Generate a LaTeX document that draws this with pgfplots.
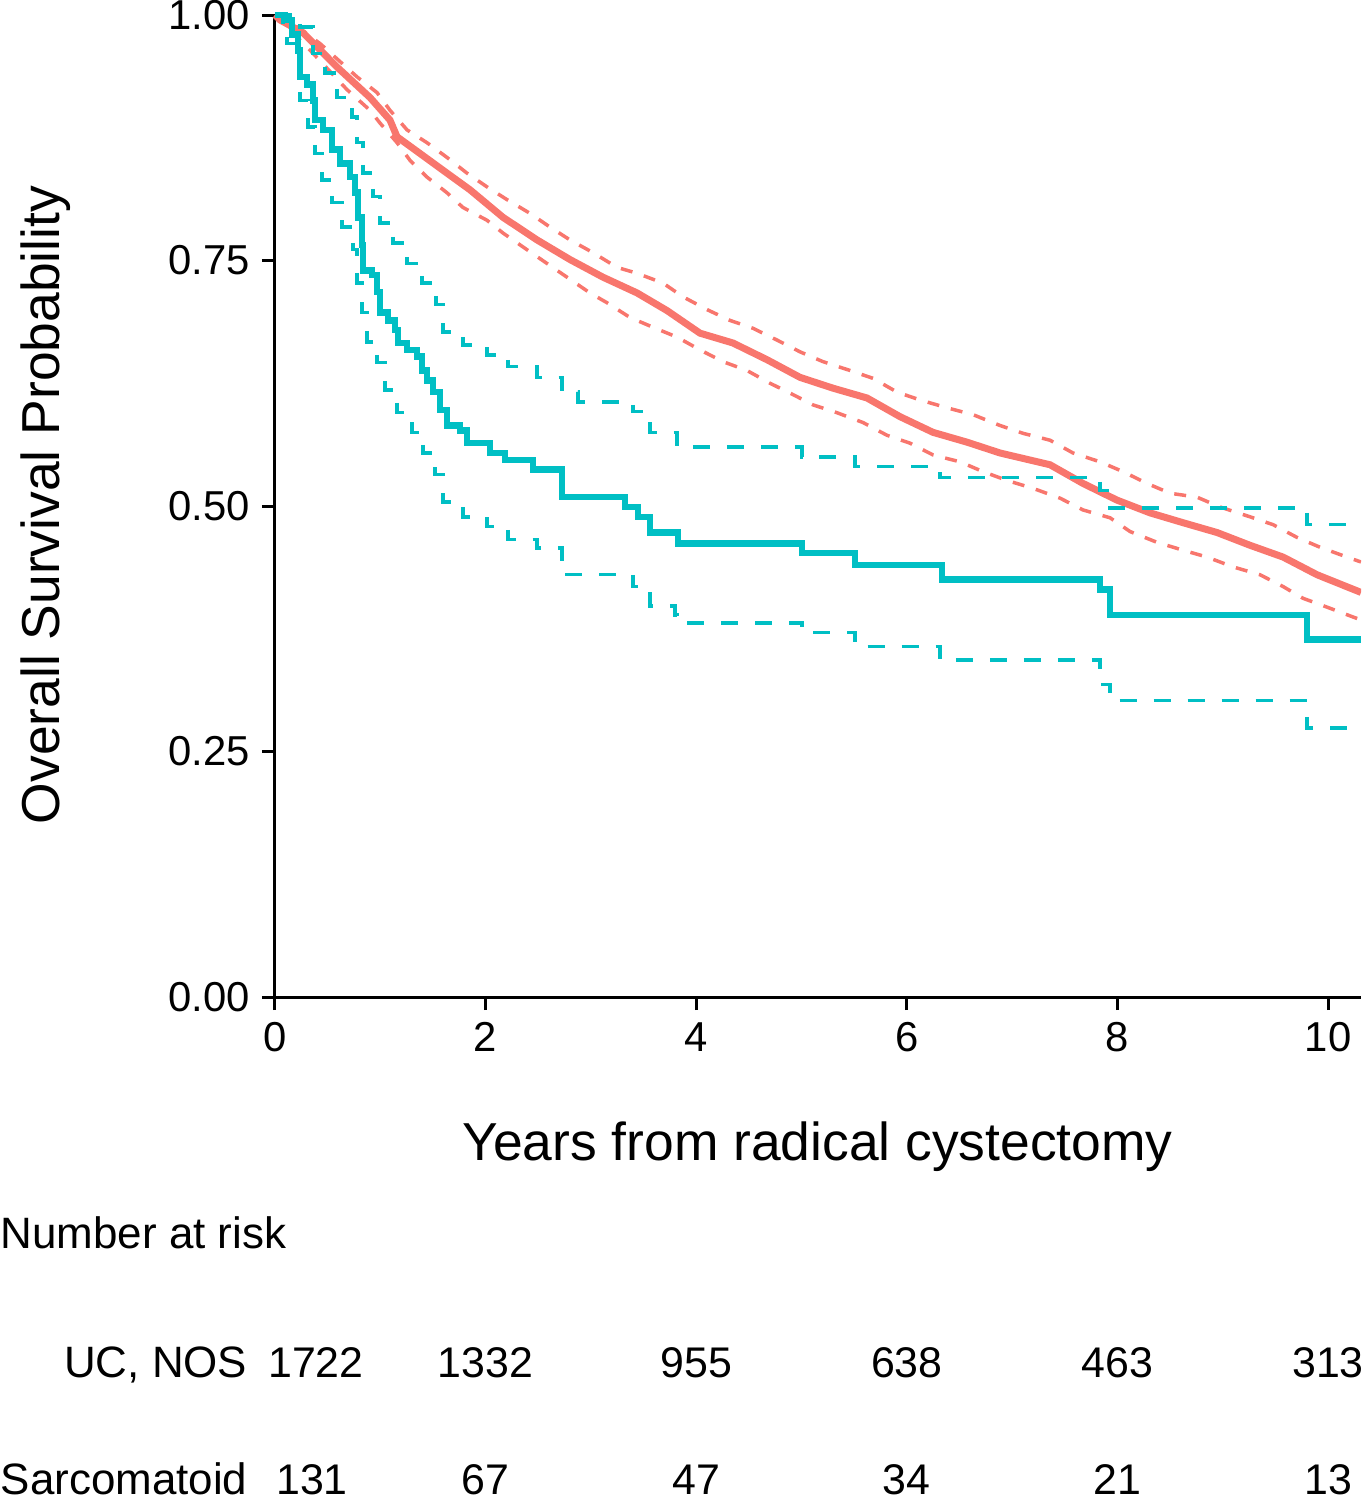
\documentclass[border=0pt]{standalone}
\usepackage{fontspec}
\setmainfont{Liberation Sans}
\usepackage{pgfplots}
\pgfplotsset{compat=1.18}
\definecolor{ucred}{HTML}{F8766D}
\definecolor{sarc}{HTML}{00BFC4}

\begin{document}
\begin{tikzpicture}[risk/.style={anchor=base, inner sep=0pt, font=\fontsize{12.2}{15}\selectfont}]
\useasboundingbox (-27.5mm,-50.3mm) rectangle (108.6mm,99.7mm);
\clip (-27.5mm,-50.3mm) rectangle (108.6mm,99.7mm);
\begin{axis}[
	at={(0,0)}, anchor=origin,
	scale only axis,
	width=108.6mm, height=98.2mm,
	xmin=0, xmax=10.313,
	ymin=0, ymax=1,
	axis lines*=left,
	axis line style={-, black, line width=0.3mm},
	tick align=outside,
	major tick length=1.3mm,
	tick style={black, line width=0.3mm},
	xtick={0,2,4,6,8,10},
	ytick={0,0.25,0.5,0.75,1},
	yticklabels={0.00,0.25,0.50,0.75,1.00},
	/pgf/number format/assume math mode=true,
	tick label style={font=\fontsize{11.9}{14}\selectfont},
	clip=false,
	]

% UC, NOS
\addplot[ucred, line width=0.7mm] coordinates {
	(0,1.000) (0.047,0.995) (0.266,0.982) (0.589,0.947) (0.902,0.916)
	(1.092,0.893) (1.159,0.876) (1.377,0.859) (1.633,0.839) (1.852,0.822)
	(2.165,0.794) (2.488,0.771) (2.801,0.751) (3.115,0.733) (3.438,0.717)
	(3.723,0.699) (4.036,0.676) (4.349,0.666) (4.672,0.649) (4.986,0.631)
	(5.299,0.620) (5.622,0.610) (5.935,0.591) (6.249,0.575) (6.572,0.565)
	(6.885,0.554) (7.360,0.542) (7.673,0.523) (7.996,0.506) (8.310,0.493)
	(8.623,0.483) (8.946,0.473) (9.259,0.460) (9.573,0.448) (9.896,0.430)
	(10.313,0.412)
};
\addplot[ucred, line width=0.35mm, dash pattern=on 1.2mm off 1.2mm] coordinates {
	(0,1.000) (0.142,0.993) (0.427,0.971) (0.779,0.937) (0.969,0.921)
	(1.092,0.903) (1.254,0.883) (1.443,0.870) (1.633,0.855) (1.823,0.839)
	(2.013,0.825) (2.203,0.812) (2.422,0.798) (2.612,0.784) (2.801,0.771)
	(3.020,0.758) (3.248,0.743) (3.438,0.737) (3.685,0.727) (3.875,0.713)
	(4.103,0.700) (4.321,0.689) (4.539,0.681) (4.767,0.669) (4.986,0.657)
	(5.204,0.647) (5.461,0.638) (5.679,0.630) (5.907,0.616) (6.125,0.608)
	(6.382,0.600) (6.629,0.593) (6.885,0.582) (7.104,0.574) (7.360,0.567)
	(7.578,0.554) (7.835,0.545) (8.053,0.535) (8.281,0.523) (8.500,0.513)
	(8.756,0.509) (8.974,0.499) (9.259,0.489) (9.478,0.481) (9.706,0.468)
	(9.924,0.458) (10.180,0.448) (10.313,0.443)
};
\addplot[ucred, line width=0.35mm, dash pattern=on 1.2mm off 1.2mm] coordinates {
	(0,1.000) (0.076,0.992) (0.361,0.961) (0.684,0.924) (0.902,0.903)
	(0.997,0.890) (1.159,0.870) (1.282,0.852) (1.443,0.835) (1.633,0.819)
	(1.785,0.804) (2.013,0.791) (2.165,0.778) (2.393,0.761) (2.583,0.747)
	(2.773,0.733) (2.991,0.717) (3.153,0.707) (3.371,0.692) (3.590,0.682)
	(3.818,0.672) (4.036,0.659) (4.255,0.647) (4.482,0.638) (4.701,0.625)
	(4.891,0.615) (5.109,0.603) (5.337,0.595) (5.584,0.585) (5.812,0.572)
	(6.030,0.564) (6.249,0.552) (6.505,0.545) (6.724,0.535) (6.952,0.526)
	(7.198,0.518) (7.455,0.508) (7.673,0.496) (7.930,0.488) (8.120,0.474)
	(8.376,0.463) (8.623,0.455) (8.851,0.448) (9.098,0.438) (9.354,0.430)
	(9.573,0.418) (9.763,0.406) (9.991,0.397) (10.237,0.387) (10.313,0.384)
};

% Sarcomatoid
\addplot[sarc, line width=0.65mm, const plot] coordinates {
	(0,1.000) (0.095,0.995) (0.161,0.980) (0.218,0.964) (0.237,0.937)
	(0.304,0.929) (0.361,0.913) (0.380,0.893) (0.456,0.883) (0.541,0.863)
	(0.617,0.849) (0.712,0.835) (0.760,0.819) (0.788,0.794) (0.826,0.766)
	(0.836,0.740) (0.921,0.735) (0.969,0.718) (0.997,0.697) (1.073,0.689)
	(1.140,0.679) (1.168,0.666) (1.254,0.659) (1.349,0.652) (1.396,0.638)
	(1.443,0.628) (1.500,0.616) (1.567,0.598) (1.633,0.582) (1.757,0.577)
	(1.823,0.564) (2.042,0.554) (2.184,0.547) (2.450,0.537) (2.726,0.509)
	(3.324,0.499) (3.447,0.489) (3.561,0.473) (3.827,0.462) (5.005,0.452)
	(5.508,0.440) (6.334,0.425) (7.835,0.415) (7.930,0.389) (9.801,0.364)
	(10.313,0.364)
};
\addplot[sarc, line width=0.35mm, const plot, dash pattern=on 1.7mm off 1.7mm] coordinates {
	(0,1.000) (0.142,0.995) (0.237,0.988) (0.361,0.961) (0.475,0.941)
	(0.589,0.916) (0.731,0.896) (0.779,0.870) (0.836,0.839) (0.931,0.815)
	(0.997,0.788) (1.121,0.768) (1.254,0.747) (1.396,0.727) (1.529,0.705)
	(1.595,0.677) (1.785,0.664) (2.013,0.654) (2.213,0.642) (2.488,0.631)
	(2.726,0.616) (2.877,0.606) (3.400,0.596) (3.561,0.575) (3.818,0.560)
	(5.005,0.550) (5.508,0.540) (6.315,0.529) (7.835,0.516) (7.930,0.498)
	(9.801,0.481) (10.313,0.481)
};
\addplot[sarc, line width=0.35mm, const plot, dash pattern=on 1.7mm off 1.7mm] coordinates {
	(0,1.000) (0.076,0.990) (0.114,0.971) (0.237,0.913) (0.313,0.886)
	(0.380,0.859) (0.446,0.832) (0.541,0.809) (0.636,0.784) (0.741,0.761)
	(0.779,0.727) (0.826,0.697) (0.874,0.667) (0.969,0.646) (1.045,0.618)
	(1.159,0.595) (1.301,0.575) (1.406,0.554) (1.519,0.532) (1.595,0.504)
	(1.785,0.489) (2.013,0.479) (2.213,0.466) (2.488,0.457) (2.726,0.430)
	(3.400,0.418) (3.561,0.398) (3.799,0.389) (3.818,0.381) (5.005,0.371)
	(5.508,0.357) (6.315,0.343) (7.835,0.318) (7.930,0.302) (9.801,0.274)
	(10.313,0.274)
};

% axis titles
\node[rotate=90, anchor=base, inner sep=0pt, font=\fontsize{15.2}{18}\selectfont]
	at (axis cs:-2.042,0.501) {Overall Survival Probability};
\node[anchor=base, inner sep=0pt, font=\fontsize{15.2}{18}\selectfont]
	at (axis cs:5.152,-0.166) {Years from radical cystectomy};

% number at risk table
\node[anchor=base west, inner sep=0pt, font=\fontsize{12.5}{15}\selectfont]
	at (axis cs:-2.612,-0.256) {Number at risk};
\node[anchor=base east, inner sep=0pt, font=\fontsize{12.5}{15}\selectfont]
	at (axis cs:-0.256,-0.387) {UC, NOS};
\node[anchor=base east, inner sep=0pt, font=\fontsize{12.5}{15}\selectfont]
	at (axis cs:-0.256,-0.507) {Sarcomatoid};
\node[risk] at (axis cs:0.389,-0.387) {1722};
\node[risk] at (axis cs:2,-0.387) {1332};
\node[risk] at (axis cs:4,-0.387) {955};
\node[risk] at (axis cs:6,-0.387) {638};
\node[risk] at (axis cs:8,-0.387) {463};
\node[risk] at (axis cs:10,-0.387) {313};
\node[risk] at (axis cs:0.351,-0.507) {131};
\node[risk] at (axis cs:2,-0.507) {67};
\node[risk] at (axis cs:4,-0.507) {47};
\node[risk] at (axis cs:6,-0.507) {34};
\node[risk] at (axis cs:8,-0.507) {21};
\node[risk] at (axis cs:10,-0.507) {13};
\end{axis}
\end{tikzpicture}
\end{document}
